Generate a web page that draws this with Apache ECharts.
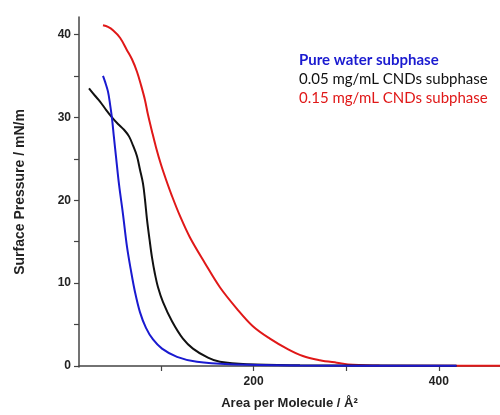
<!DOCTYPE html>
<html>
<head>
<meta charset="utf-8">
<script src="https://cdn.jsdelivr.net/npm/echarts@6/dist/echarts.min.js"></script>
<style>html,body{margin:0;padding:0;background:#fff}#c{width:500px;height:415px}</style>
</head>
<body>
<div id="c"></div>
<script>
var seriesNames = ['Pure water subphase', '0.05 mg/mL CNDs subphase', '0.15 mg/mL CNDs subphase'];
var blueData = [[37.4,35.0],[39.6,34.3],[42.8,33.1],[45.0,31.6],[47.1,29.9],[49.2,27.6],[51.5,25.2],[54.7,21.9],[59.0,18.3],[63.3,14.4],[67.6,11.5],[72.0,8.9],[77.3,6.5],[83.8,4.6],[91.4,3.2],[101.1,2.1],[117.3,1.1],[138.8,0.5],[174.4,0.2],[250,0.07],[419,0.03]];
var blackData = [[22.3,33.5],[28.8,32.6],[34.2,31.9],[40.7,30.9],[47.1,30.0],[53.6,29.2],[60.1,28.5],[65.5,27.7],[69.8,26.6],[74.1,25.3],[77.3,23.7],[80.6,22.0],[82.7,20.1],[84.9,17.7],[87.6,15.3],[90.3,13.1],[93.5,11.1],[96.8,9.5],[102.2,7.7],[111.9,5.4],[123.7,3.3],[134.5,2.1],[150.7,1.0],[163.6,0.5],[192.8,0.2],[250,0.1],[419,0.04]];
var redData = [[37.4,41.1],[42.8,40.9],[48.2,40.5],[55.8,39.6],[63.3,38.1],[68.7,37.0],[74.1,35.5],[78.4,33.9],[82.7,32.1],[86.0,30.3],[90.3,28.3],[94.6,26.4],[100,24.3],[105.4,22.5],[111.9,20.5],[120.5,18.1],[131.3,15.5],[147.5,12.4],[163.6,9.5],[182.0,6.9],[199.2,4.8],[217.6,3.3],[235.9,2.1],[253.2,1.2],[271.5,0.7],[289.8,0.4],[307,0.15],[336,0.05],[400,0.04],[466,0.04]];
var xTicks = [100, 200, 300, 400];
var xLabels = [200, 400];
var yTicks = [0, 5, 10, 15, 20, 25, 30, 35, 40];
var yLabels = [0, 10, 20, 30, 40];
var colors = ['#1a1ad0', '#111111', '#e01818'];

var chart = echarts.init(document.getElementById('c'), null, {renderer: 'canvas'});
function mkSeries(i, d) {
  return {type: 'line', name: seriesNames[i], data: d, showSymbol: false, smooth: 0.35, smoothConstraint: false,
    lineStyle: {color: colors[i], width: 2}, z: 3 - i, animation: false};
}
chart.setOption({
  animation: false,
  grid: {left: 79, top: 17, right: 0, bottom: 47},
  xAxis: {
    type: 'value', min: 11.5, max: 466,
    name: 'Area per Molecule / Å²', nameLocation: 'middle', nameGap: 30,
    nameTextStyle: {fontFamily: 'Liberation Sans', fontWeight: 'bold', fontSize: 13, color: '#222'},
    axisLine: {lineStyle: {color: '#444', width: 1.5}},
    axisTick: {show: true, customValues: xTicks, length: 5, inside: false, lineStyle: {color: '#444', width: 1.2}},
    axisLabel: {customValues: xLabels, fontFamily: 'Liberation Sans', fontWeight: 'bold', fontSize: 12, color: '#222', margin: 9},
    splitLine: {show: false}
  },
  yAxis: {
    type: 'value', min: -0.12, max: 42.1,
    name: 'Surface Pressure / mN/m', nameLocation: 'middle', nameGap: 52, nameRotate: 90,
    nameTextStyle: {fontFamily: 'Liberation Sans', fontWeight: 'bold', fontSize: 14, color: '#222'},
    axisLine: {show: true, lineStyle: {color: '#444', width: 1.5}},
    axisTick: {show: true, customValues: yTicks, length: 5, inside: false, lineStyle: {color: '#444', width: 1.2}},
    axisLabel: {customValues: yLabels, fontFamily: 'Liberation Sans', fontWeight: 'bold', fontSize: 12, color: '#222', margin: 8},
    splitLine: {show: false}
  },
  series: [mkSeries(0, blueData), mkSeries(1, blackData), mkSeries(2, redData)],
  graphic: [
    {type: 'text', left: 299, top: 53, style: {text: seriesNames[0], fill: colors[0], font: 'bold 15px Lato'}},
    {type: 'text', left: 299, top: 72, style: {text: seriesNames[1], fill: '#111', font: '15px Lato'}},
    {type: 'text', left: 299, top: 91, style: {text: seriesNames[2], fill: colors[2], font: '15px Lato'}}
  ]
});
</script>
</body>
</html>
